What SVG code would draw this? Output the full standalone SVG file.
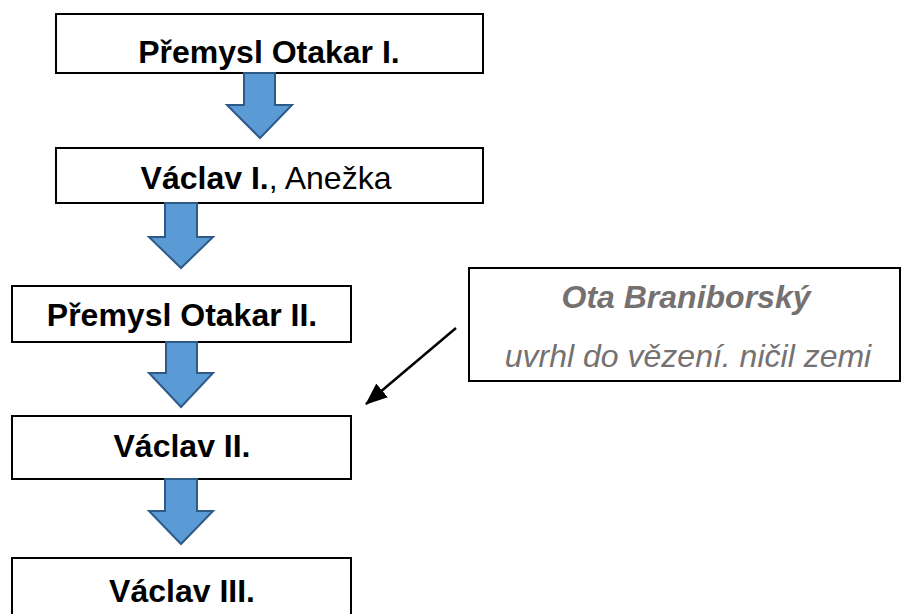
<svg xmlns="http://www.w3.org/2000/svg" width="901" height="614" viewBox="0 0 901 614">
<style>
.box{fill:#fff;stroke:#000;stroke-width:2}
.t{font-family:"Liberation Sans",Arial,sans-serif;font-size:32px;fill:#000;text-anchor:middle}
.b{font-weight:bold}
.g{fill:#767171;font-style:italic}
.arr{fill:#5B9BD5;stroke:#2E5A88;stroke-width:2;stroke-linejoin:miter}
.ln{stroke:#000;stroke-width:2.5;fill:none}
</style>
<defs>
<marker id="ah" viewBox="0 0 22 18" refX="21" refY="9" markerWidth="22" markerHeight="18" markerUnits="userSpaceOnUse" orient="auto">
<path d="M0,0 L22,9 L0,18 z" fill="#000"/>
</marker>
</defs>
<rect width="901" height="614" fill="#fff"/>
<g id="n1"><rect class="box" x="56" y="14" width="427" height="59"/><text class="t b" x="269" y="63">Přemysl Otakar I.</text></g>
<g id="n2"><rect class="box" x="56" y="148" width="427" height="55"/><text class="t" x="266" y="189"><tspan class="b">Václav I.</tspan>, Anežka</text></g>
<g id="n3"><rect class="box" x="12" y="286" width="339" height="56"/><text class="t b" x="182" y="326">Přemysl Otakar II.</text></g>
<g id="n4"><rect class="box" x="12" y="416" width="339" height="63"/><text class="t b" x="182" y="457">Václav II.</text></g>
<g id="n5"><rect class="box" x="12" y="558" width="339" height="70"/><text class="t b" x="182" y="602">Václav III.</text></g>
<g id="side"><rect class="box" x="469" y="268" width="431" height="113"/>
<text class="t g b" x="686" y="308">Ota Braniborský</text>
<text class="t g" x="688" y="367">uvrhl do vězení. ničil zemi</text></g>
<g id="connectors">
<path class="arr" d="M244,73 H275 V105 H292 L260,138 L227,105 H244 Z"/>
<path class="arr" d="M165,203 H197 V237 H213 L181,268 L149,237 H165 Z"/>
<path class="arr" d="M166,342 H197 V373 H213 L181,407 L149,373 H166 Z"/>
<path class="arr" d="M165,479 H197 V511 H213 L181,544 L149,511 H165 Z"/>
<line class="ln" x1="456" y1="328" x2="366" y2="404" marker-end="url(#ah)"/>
</g>
</svg>
